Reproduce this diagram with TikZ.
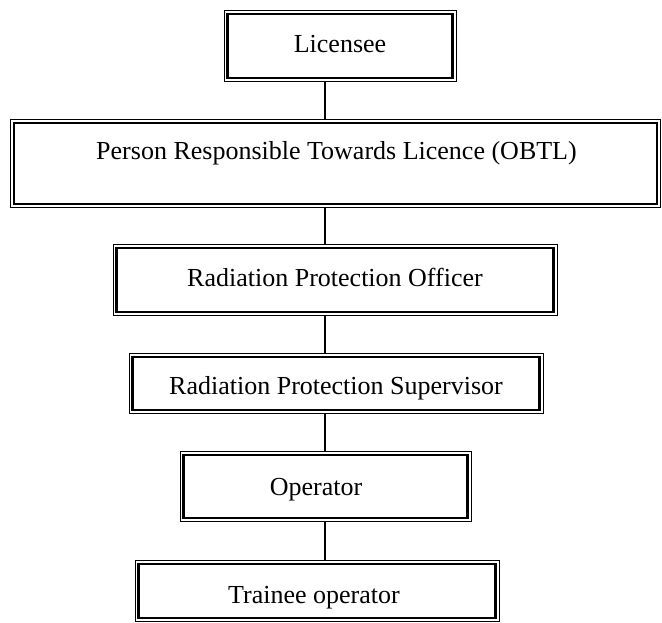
\documentclass[tikz,border=0pt]{standalone}
\usepackage{fontspec}
\setmainfont{Liberation Serif}
\begin{document}
\begin{tikzpicture}[x=1pt,y=-1pt,
  box/.style={draw=black, line width=1pt, inner sep=0pt, outer sep=0pt, fill=none},
  lbl/.style={anchor=base, inner sep=0pt, font=\fontsize{26}{30}\selectfont},
  inner/.style={line width=2.5pt},
  conn/.style={draw=black, line width=1.5pt}]
\useasboundingbox (0,0) rectangle (662,623);
% boxes (outer thin line)
\node[box, minimum width=232pt, minimum height=71pt] (lic) at (340,46) {};
\node[box, minimum width=650pt, minimum height=88pt] (per) at (335.5,163.5) {};
\node[box, minimum width=444pt, minimum height=71pt] (rpo) at (335,280) {};
\node[box, minimum width=414pt, minimum height=60pt] (rps) at (336,383.5) {};
\node[box, minimum width=291pt, minimum height=70pt] (op) at (325.5,486.5) {};
\node[box, minimum width=364pt, minimum height=61pt] (tr) at (317,591) {};
% inner thick lines
\foreach \n in {lic,per,rpo,rps,op,tr}
  \draw[inner] ([shift={(3.3pt,-3.3pt)}]\n.north west) rectangle ([shift={(-3.3pt,3.3pt)}]\n.south east);
% labels
\node[lbl] (tlic) at (340,53) {Licensee};
\node[lbl] (tper) at (336.5,160) {Person Responsible Towards Licence (OBTL)};
\node[lbl] (trpo) at (335,287) {Radiation Protection Officer};
\node[lbl] (trps) at (336,394) {Radiation Protection Supervisor};
\node[lbl] (top) at (316,495) {Operator};
\node[lbl] (ttr) at (314,603) {Trainee operator};
% connectors
\coordinate (cx) at (325,0);
\draw[conn] (lic.south -| cx) -- (per.north -| cx);
\draw[conn] (per.south -| cx) -- (rpo.north -| cx);
\draw[conn] (rpo.south -| cx) -- (rps.north -| cx);
\draw[conn] (rps.south -| cx) -- (op.north -| cx);
\draw[conn] (op.south -| cx) -- (tr.north -| cx);
\end{tikzpicture}
\end{document}
